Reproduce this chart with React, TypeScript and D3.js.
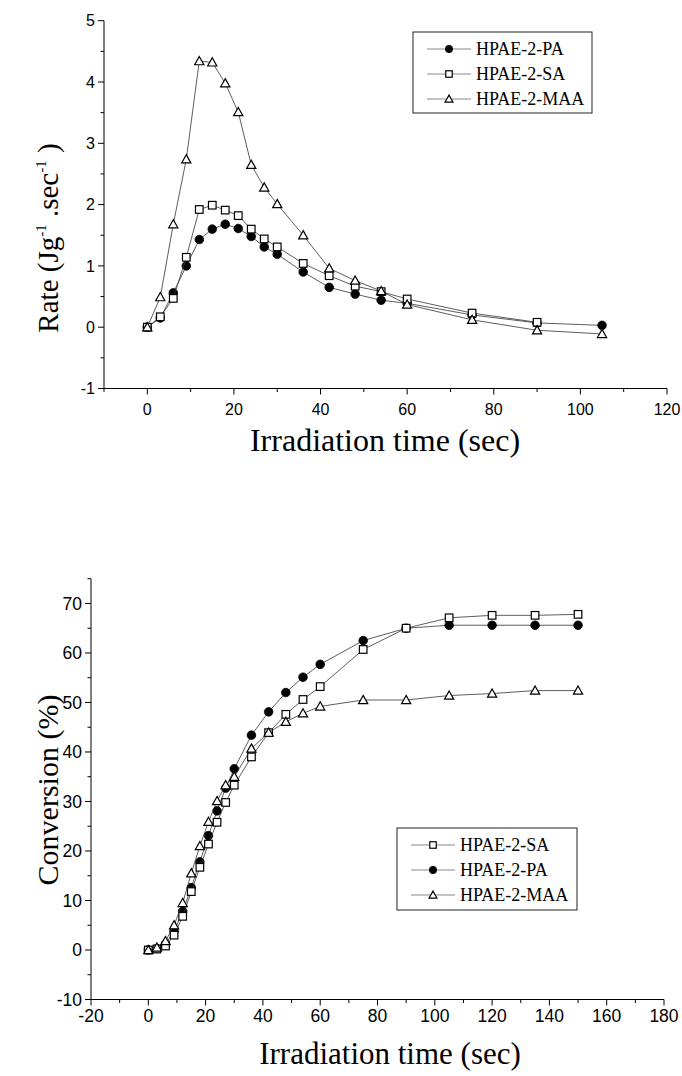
import React from "react";
import * as d3 from "d3";

// ---------- data ----------
const rateTime = [0, 3, 6, 9, 12, 15, 18, 21, 24, 27, 30, 36, 42, 48, 54, 60, 75, 90, 105];
const ratePA = [0, 0.15, 0.56, 1.0, 1.43, 1.6, 1.68, 1.61, 1.48, 1.31, 1.19, 0.9, 0.65, 0.54, 0.44, 0.39, 0.2, 0.07, 0.03];
const rateSA = [0, 0.17, 0.47, 1.14, 1.92, 1.99, 1.91, 1.82, 1.6, 1.44, 1.31, 1.04, 0.84, 0.67, 0.58, 0.46, 0.23, 0.08];
const rateMAA = [0, 0.49, 1.68, 2.74, 4.34, 4.32, 3.98, 3.51, 2.65, 2.28, 2.01, 1.5, 0.96, 0.76, 0.59, 0.37, 0.12, -0.05, -0.11];

const convTime = [0, 3, 6, 9, 12, 15, 18, 21, 24, 27, 30, 36, 42, 48, 54, 60, 75, 90, 105, 120, 135, 150];
const convSA = [0, 0.2, 0.8, 3.0, 6.8, 11.8, 16.7, 21.4, 25.8, 29.8, 33.3, 39.0, 43.9, 47.6, 50.6, 53.2, 60.7, 65.0, 67.1, 67.6, 67.6, 67.8];
const convPA = [0, 0.3, 1.2, 3.8, 7.8, 12.6, 17.8, 23.1, 28.1, 32.7, 36.6, 43.4, 48.1, 52.0, 55.1, 57.7, 62.5, 65.0, 65.6, 65.6, 65.6, 65.6];
const convMAA = [0, 0.5, 1.8, 5.0, 9.5, 15.5, 21.0, 25.9, 30.1, 33.3, 35.0, 40.7, 43.9, 46.1, 47.8, 49.2, 50.5, 50.5, 51.4, 51.8, 52.4, 52.4];

const rateXTicks = [0, 20, 40, 60, 80, 100, 120];
const rateXMinor = [-10, 10, 30, 50, 70, 90, 110];
const rateYTicks = [-1, 0, 1, 2, 3, 4, 5];
const rateYMinor = [-0.5, 0.5, 1.5, 2.5, 3.5, 4.5];
const convXTicks = [-20, 0, 20, 40, 60, 80, 100, 120, 140, 160, 180];
const convXMinor = [-10, 10, 30, 50, 70, 90, 110, 130, 150, 170];
const convYTicks = [-10, 0, 10, 20, 30, 40, 50, 60, 70];
const convYMinor = [-5, 5, 15, 25, 35, 45, 55, 65, 75];

const rateLegend = [
  { label: "HPAE-2-PA", shape: "circle" },
  { label: "HPAE-2-SA", shape: "square" },
  { label: "HPAE-2-MAA", shape: "triangle" },
];
const convLegend = [
  { label: "HPAE-2-SA", shape: "square" },
  { label: "HPAE-2-PA", shape: "circle" },
  { label: "HPAE-2-MAA", shape: "triangle" },
];

const SANS = "'Liberation Sans', Arial, sans-serif";
const SERIF = "'Liberation Serif', 'Times New Roman', serif";

function Marker({ shape, x, y, s = 1 }: { shape: string; x: number; y: number; s?: number }) {
  if (shape === "circle") return <circle cx={x} cy={y} r={4.3 * s} fill="#000" stroke="#000" strokeWidth={0.8} />;
  if (shape === "square") {
    const h = 3.8 * s;
    return <rect x={x - h} y={y - h} width={2 * h} height={2 * h} fill="#fff" stroke="#000" strokeWidth={1.2} />;
  }
  const w = 4.6 * s;
  const p = `M${x},${y - 4.6 * s}L${x + w},${y + 3.6 * s}L${x - w},${y + 3.6 * s}Z`;
  return <path d={p} fill="#fff" stroke="#000" strokeWidth={1.2} />;
}

function Series({ xs, ys, shape, x, y }: any) {
  const pts = ys.map((v: number, i: number) => [x(xs[i]), y(v)] as [number, number]);
  const line = d3.line();
  return (
    <g>
      <path d={line(pts) || ""} fill="none" stroke="#333" strokeWidth={0.8} />
      {pts.map((p: [number, number], i: number) => (
        <Marker key={i} shape={shape} x={p[0]} y={p[1]} />
      ))}
    </g>
  );
}

function Axes({ x, y, xt, xm, yt, ym, fs, lblOff }: any) {
  const [x0, x1] = x.range();
  const [y0, y1] = y.range();
  return (
    <g stroke="#000" strokeWidth={1}>
      <line x1={x0} x2={x1} y1={y0} y2={y0} />
      <line x1={x0} x2={x0} y1={y0} y2={y1} />
      {xt.map((t: number) => (
        <g key={"xt" + t}>
          <line x1={x(t)} x2={x(t)} y1={y0} y2={y0 + 6} />
          <text x={x(t)} y={y0 + lblOff} textAnchor="middle" fontFamily={SANS} fontSize={fs} stroke="none" fill="#000">{t}</text>
        </g>
      ))}
      {xm.map((t: number) => (
        <line key={"xm" + t} x1={x(t)} x2={x(t)} y1={y0} y2={y0 + 3.5} />
      ))}
      {yt.map((t: number) => (
        <g key={"yt" + t}>
          <line x1={x0 - 6} x2={x0} y1={y(t)} y2={y(t)} />
          <text x={x0 - 9} y={y(t)} dy="0.36em" textAnchor="end" fontFamily={SANS} fontSize={fs} stroke="none" fill="#000">{t}</text>
        </g>
      ))}
      {ym.map((t: number) => (
        <line key={"ym" + t} x1={x0 - 3.5} x2={x0} y1={y(t)} y2={y(t)} />
      ))}
    </g>
  );
}

function Legend({ items, x, y, w, h, gap }: any) {
  return (
    <g>
      <rect x={x} y={y} width={w} height={h} fill="#fff" stroke="#222" strokeWidth={1} />
      {items.map((it: any, i: number) => {
        const cy = y + 17 + i * gap;
        return (
          <g key={i}>
            <line x1={x + 14} x2={x + 58} y1={cy} y2={cy} stroke="#888" strokeWidth={1} />
            <Marker shape={it.shape} x={x + 36} y={cy} s={0.85} />
            <text x={x + 63} y={cy} dy="0.35em" fontFamily={SERIF} fontSize={18} fill="#000">{it.label}</text>
          </g>
        );
      })}
    </g>
  );
}

export default function App() {
  const xR = d3.scaleLinear().domain([-10, 120]).range([104, 667]);
  const yR = d3.scaleLinear().domain([-1, 5]).range([388.5, 20.7]);
  const xC = d3.scaleLinear().domain([-20, 180]).range([91, 664]);
  const yC = d3.scaleLinear().domain([-10, 75]).range([999.5, 578.7]);

  return (
    <svg width={682} height={1076} style={{ position: "absolute", left: 0, top: 0, background: "#fff" }}>
      <rect width={682} height={1076} fill="#fff" />
      {/* Top chart */}
      <Axes x={xR} y={yR} xt={rateXTicks} xm={rateXMinor} yt={rateYTicks} ym={rateYMinor} fs={16} lblOff={26} />
      <Series xs={rateTime} ys={ratePA} shape="circle" x={xR} y={yR} />
      <Series xs={rateTime} ys={rateSA} shape="square" x={xR} y={yR} />
      <Series xs={rateTime} ys={rateMAA} shape="triangle" x={xR} y={yR} />
      <Legend items={rateLegend} x={413} y={32} w={179} h={81} gap={25} />
      <text x={385} y={451} textAnchor="middle" fontFamily={SERIF} fontSize={32}>Irradiation time (sec)</text>
      <text transform="translate(58,238) rotate(-90)" textAnchor="middle" fontFamily={SERIF} fontSize={29}>
        Rate (Jg<tspan dy={-12} fontSize={15}>-1</tspan><tspan dy={12}> .sec</tspan><tspan dy={-12} fontSize={15}>-1</tspan><tspan dy={12}> )</tspan>
      </text>

      {/* Bottom chart */}
      <Axes x={xC} y={yC} xt={convXTicks} xm={convXMinor} yt={convYTicks} ym={convYMinor} fs={17.5} lblOff={22} />
      <Series xs={convTime} ys={convPA} shape="circle" x={xC} y={yC} />
      <Series xs={convTime} ys={convSA} shape="square" x={xC} y={yC} />
      <Series xs={convTime} ys={convMAA} shape="triangle" x={xC} y={yC} />
      <Legend items={convLegend} x={397} y={828} w={180} h={82} gap={25} />
      <text x={390} y={1064} textAnchor="middle" fontFamily={SERIF} fontSize={31}>Irradiation time (sec)</text>
      <text transform="translate(58,790) rotate(-90)" textAnchor="middle" fontFamily={SERIF} fontSize={30}>Conversion (%)</text>
    </svg>
  );
}
